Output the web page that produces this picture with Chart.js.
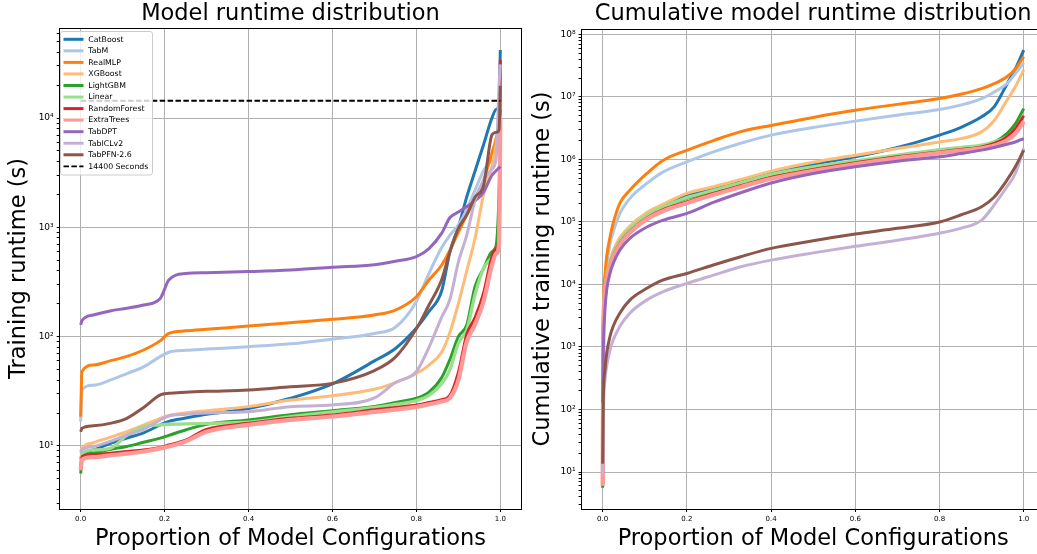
<!DOCTYPE html>
<html><head><meta charset="utf-8">
<script src="https://cdn.jsdelivr.net/npm/chart.js@4.4.1/dist/chart.umd.min.js"></script>
<style>
html,body{margin:0;padding:0;background:#fff;overflow:hidden;width:1037px;height:554px;position:relative;}
#c1{position:absolute;left:0;top:0;}
#c2{position:absolute;left:525px;top:0;}
</style></head><body>
<canvas id="c1" width="581" height="554"></canvas>
<canvas id="c2" width="576" height="554"></canvas>
<script>
const names = ['CatBoost','TabM','RealMLP','XGBoost','LightGBM','Linear','RandomForest','ExtraTrees','TabDPT','TabICLv2','TabPFN-2.6'];
const colors = ['#1f77b4','#aec7e8','#ff7f0e','#ffbb78','#2ca02c','#98df8a','#d62728','#ff9896','#9467bd','#c5b0d5','#8c564b'];
const widths = [3,3,3,3,3,3.3,3,4.2,3,3,3];

// x positions (proportion of model configurations)
const runtimeP = [0, 0.003, 0.03, 0.07, 0.11, 0.15, 0.19, 0.21, 0.25, 0.3, 0.4, 0.5, 0.6, 0.7, 0.75, 0.8, 0.83, 0.86, 0.88, 0.9, 0.92, 0.94, 0.96, 0.98, 0.99, 0.997, 1.0];
const cumulativeP = [0, 0.0016, 0.0055, 0.0095, 0.0174, 0.025, 0.041, 0.065, 0.105, 0.144, 0.2, 0.263, 0.326, 0.4, 0.5, 0.6, 0.7, 0.8, 0.85, 0.9, 0.93, 0.96, 0.98, 1.0];

// left: training runtime (s)
const catboostRuntime = [7.5, 8.2, 9.2, 10.5, 11.8, 13.2, 15.6, 16.8, 18, 19.5, 22, 27.3, 37, 60, 78, 120, 170, 260, 600, 1000, 1900, 3300, 5700, 10000, 12000, 13000, 42000];
const tabmRuntime = [16.7, 32.5, 36, 40, 46, 53, 66, 72, 75, 77, 81, 86, 95, 107, 122, 210, 380, 650, 850, 1050, 1450, 2200, 3300, 4200, 5000, 8000, 20000];
const realmlpRuntime = [18.5, 48, 55, 60, 66, 75.5, 92, 107, 113, 117, 125, 134, 144, 158, 175, 232, 330, 450, 620, 900, 1300, 1850, 2700, 4800, 6500, 9000, 12000];
const xgboostRuntime = [8.9, 9.5, 10.7, 12, 13.5, 15.5, 17.9, 19, 20, 21, 22.9, 26.3, 28.8, 33, 38, 46, 55, 72, 110, 200, 400, 800, 2000, 3600, 5800, 8400, 10000];
const lightgbmRuntime = [5.6, 7.4, 8.6, 9.3, 9.9, 10.8, 11.8, 12.5, 14, 15.8, 17.3, 19.3, 21, 23, 25, 27.3, 31, 42, 62, 100, 128, 290, 420, 600, 680, 2000, 6000];
const linearRuntime = [7.5, 8.5, 9.2, 9.5, 12.5, 15, 15.6, 15.8, 15.9, 16.1, 16.5, 18.5, 20.5, 22.5, 24, 26, 29, 37, 50, 87, 115, 245, 420, 530, 580, 700, 3000];
const randomforestRuntime = [6.5, 8, 8.3, 8.6, 8.9, 9.2, 9.7, 10.2, 11.3, 14.2, 16.1, 17.9, 19.2, 21.4, 22.5, 23.7, 25, 26.5, 29, 47, 105, 150, 250, 540, 640, 800, 34000];
const extratreesRuntime = [6, 7.5, 7.9, 8.2, 8.5, 8.9, 9.5, 9.9, 11, 13.5, 15.6, 17.3, 18.6, 20.5, 21.5, 22.8, 24, 25.5, 27.5, 40, 90, 130, 210, 450, 575, 700, 10000];
const tabdptRuntime = [128, 140, 158, 172, 182, 195, 225, 330, 378, 385, 394, 407, 431, 455, 490, 540, 640, 880, 1230, 1380, 1550, 1750, 2100, 3000, 3300, 3500, 3600];
const tabiclRuntime = [8.6, 9.2, 9.9, 11, 12.6, 14.2, 17.3, 18.8, 19.5, 20, 20.6, 22.9, 23.7, 27.5, 38, 48, 80, 150, 220, 480, 850, 1780, 2700, 3400, 4300, 20000, 31000];
const tabpfnRuntime = [13.5, 14.5, 15.3, 16.1, 17.9, 22.5, 29.3, 30.3, 31, 31.6, 32.5, 34.9, 37.4, 49, 65, 118, 195, 330, 600, 980, 1300, 1900, 2400, 7000, 7400, 7800, 19700];
const limitSeconds = 14400;

// right: cumulative training runtime (s)
const catboostCumulative = [7.5, 2150, 8300, 13400, 22300, 32500, 52500, 81500, 133000, 180000, 263000, 340000, 445000, 610000, 840000, 1100000, 1550000, 2450000, 3240000, 4800000, 7000000, 16000000, 28000000, 56000000];
const tabmCumulative = [16.7, 2000, 8000, 19000, 45000, 69000, 137000, 240000, 414000, 632000, 912000, 1320000, 1800000, 2450000, 3240000, 4100000, 5100000, 6300000, 7400000, 9400000, 12000000, 16300000, 23600000, 35000000];
const realmlpCumulative = [18.5, 3000, 14000, 27700, 57000, 96000, 200000, 323000, 596000, 970000, 1400000, 2000000, 2760000, 3500000, 4700000, 6100000, 7600000, 9400000, 11000000, 13600000, 16300000, 21000000, 28000000, 44000000];
const xgboostCumulative = [8.9, 2300, 8900, 14300, 23900, 34800, 56000, 87000, 142000, 193000, 286000, 365000, 475000, 650000, 900000, 1170000, 1500000, 1900000, 2150000, 2760000, 4200000, 8800000, 14500000, 27000000];
const lightgbmCumulative = [5.6, 2000, 7900, 12600, 21000, 30700, 49500, 76500, 125000, 170000, 238000, 310000, 405000, 550000, 740000, 917000, 1130000, 1380000, 1500000, 1630000, 1900000, 2600000, 3700000, 6500000];
const linearCumulative = [7.5, 2050, 8000, 12900, 21500, 31300, 50500, 78000, 128000, 173000, 245000, 320000, 420000, 575000, 762000, 951000, 1170000, 1440000, 1550000, 1690000, 1910000, 2290000, 2930000, 4240000];
const randomforestCumulative = [6.5, 1900, 7300, 11700, 19500, 28400, 46000, 71000, 116000, 158000, 209000, 285000, 375000, 515000, 690000, 883000, 1100000, 1320000, 1440000, 1580000, 1800000, 2290000, 3100000, 5000000];
const extratreesCumulative = [6, 1800, 7000, 11200, 18700, 27200, 43900, 68000, 111000, 150000, 200000, 272000, 360000, 490000, 658000, 840000, 1050000, 1270000, 1390000, 1510000, 1670000, 2030000, 2600000, 4000000];
const tabdptCumulative = [128, 890, 3900, 8100, 15000, 21700, 35600, 55000, 83000, 107000, 137000, 205000, 290000, 420000, 596000, 762000, 935000, 1100000, 1240000, 1410000, 1550000, 1750000, 1900000, 2160000];
const tabiclCumulative = [8.6, 90, 300, 490, 890, 1290, 2150, 3500, 5670, 7700, 10400, 14100, 19000, 24500, 32000, 40700, 51000, 66000, 79000, 107000, 187000, 365000, 596000, 1500000];
const tabpfnCumulative = [13.5, 141, 427, 790, 1470, 2150, 3500, 5670, 8680, 11800, 15000, 20500, 27500, 37800, 50000, 64000, 79000, 100000, 129000, 175000, 251000, 465000, 762000, 1400000];

const xTicks = [0, 0.2, 0.4, 0.6, 0.8, 1.0];
const runtimeDecades = [10, 100, 1000, 10000];
const cumulativeDecades = [10, 100, 1000, 10000, 100000, 1000000, 10000000, 100000000];

const runtimeSeries = [catboostRuntime, tabmRuntime, realmlpRuntime, xgboostRuntime, lightgbmRuntime, linearRuntime, randomforestRuntime, extratreesRuntime, tabdptRuntime, tabiclRuntime, tabpfnRuntime];
const cumulativeSeries = [catboostCumulative, tabmCumulative, realmlpCumulative, xgboostCumulative, lightgbmCumulative, linearCumulative, randomforestCumulative, extratreesCumulative, tabdptCumulative, tabiclCumulative, tabpfnCumulative];

Chart.defaults.font.family = "'DejaVu Sans', sans-serif";
Chart.defaults.color = '#000';

const SUP = {'0':'⁰','1':'¹','2':'²','3':'³','4':'⁴','5':'⁵','6':'⁶','7':'⁷','8':'⁸','9':'⁹','-':'⁻'};
function supLabel(v){ const e = Math.round(Math.log10(v)); return '10' + String(e).split('').map(c=>SUP[c]).join(''); }
function logTicks(min, max, decades){
  const t = [];
  for (let e = Math.floor(Math.log10(min)); e <= Math.ceil(Math.log10(max)); e++){
    for (let k = 1; k <= 9; k++){
      const v = k * Math.pow(10, e);
      if (v >= min && v <= max) t.push({value: v, major: k === 1 && decades.some(d => Math.abs(d - v) < 1e-6 * d)});
    }
  }
  return t;
}

const frame = { id:'frame', afterDatasetsDraw(chart){
  const {ctx, chartArea:a} = chart; ctx.save();
  ctx.strokeStyle = '#000'; ctx.lineWidth = 1; ctx.setLineDash([]);
  const l = Math.floor(a.left)+0.5, t = Math.floor(a.top)+0.5, r = Math.floor(a.right)+0.5, b = Math.floor(a.bottom)+0.5;
  ctx.strokeRect(l, t, r-l, b-t); ctx.restore();
}};

const legendBox = { id:'legendBox', afterDraw(chart){
  const ctx = chart.ctx; const ds = chart.data.datasets;
  ctx.save();
  const x0 = 60.5, y0 = 31.5, w = 92, h = 143.5;
  ctx.beginPath(); ctx.roundRect(x0, y0, w, h, 2.5);
  ctx.fillStyle = 'rgba(255,255,255,0.8)'; ctx.fill();
  ctx.strokeStyle = '#cccccc'; ctx.lineWidth = 1; ctx.stroke();
  ctx.font = "7.8px 'DejaVu Sans'"; ctx.textBaseline = 'middle'; ctx.textAlign = 'left';
  ds.forEach((d, i) => {
    const y = 39.3 + 11.55 * i;
    ctx.beginPath(); ctx.setLineDash(d.borderDash || []);
    ctx.strokeStyle = d.borderColor; ctx.lineWidth = d.borderDash ? 1.8 : 3;
    ctx.moveTo(63.5, y); ctx.lineTo(83.5, y); ctx.stroke();
    ctx.setLineDash([]);
    ctx.fillStyle = '#000'; ctx.fillText(d.label, 88.3, y + 0.3);
  });
  ctx.restore();
}};

function makeDatasets(p, series){
  return series.map((s, i) => ({
    label: names[i],
    data: p.map((x, j) => ({x: x, y: s[j]})),
    borderColor: colors[i], backgroundColor: colors[i],
    borderWidth: widths[i], pointRadius: 0, fill: false,
    cubicInterpolationMode: 'monotone', order: 20 - i,
    borderJoinStyle: 'round'
  }));
}

function makeOptions(cfg){
  return {
    responsive: false, animation: false, devicePixelRatio: 1,
    layout: {padding: {left: 0, right: cfg.padRight, top: 0, bottom: 0}},
    plugins: {
      legend: {display: false}, tooltip: {enabled: false},
      title: {display: true, fullSize: false, text: cfg.title, color: '#000', font: {size: 22.5, weight: 'normal', lineHeight: 1.2}, padding: {top: 0.7, bottom: cfg.titlePadBottom}}
    },
    scales: {
      x: {
        type: 'linear', min: -0.05, max: 1.05,
        afterBuildTicks: s => { s.ticks = xTicks.map(v => ({value: v})); },
        afterFit: s => { s.height = 45; },
        ticks: {autoSkip: false, maxRotation: 0, minRotation: 0, padding: 3, font: {size: 7}, color: '#000', callback: v => Number(v).toFixed(1)},
        grid: {color: '#b0b0b0', lineWidth: 1, tickColor: '#000', tickLength: 3, tickWidth: 1},
        border: {display: false},
        title: {display: true, text: 'Proportion of Model Configurations', color: '#000', font: {size: 22.5, lineHeight: 1.2}, padding: {top: 0, bottom: 1.3}}
      },
      y: {
        type: 'logarithmic', min: cfg.ymin, max: cfg.ymax,
        afterBuildTicks: s => { s.ticks = logTicks(cfg.ymin, cfg.ymax, cfg.decades); },
        afterFit: s => { s.width = cfg.yWidth; },
        ticks: {autoSkip: false, padding: 3, font: {size: 9}, color: '#000', callback: (v, i, t) => (t[i] && t[i].major) ? supLabel(v) : ''},
        grid: {color: c => (c.tick && c.tick.major) ? '#b0b0b0' : 'rgba(0,0,0,0)', lineWidth: 1, tickColor: '#000', tickLength: 3, tickWidth: 1},
        border: {display: false},
        title: {display: true, text: cfg.ytitle, color: '#000', font: {size: 22.5, lineHeight: 1.2}, padding: {top: cfg.yTitlePad, bottom: 0}}
      }
    }
  };
}

const leftSets = makeDatasets(runtimeP, runtimeSeries);
leftSets.push({label: '14400 Seconds', data: [{x: 0, y: limitSeconds}, {x: 1, y: limitSeconds}], borderColor: '#000', backgroundColor: '#000', borderWidth: 1.8, borderDash: [5.5, 2.4], pointRadius: 0, fill: false, order: 0});

new Chart(document.getElementById('c1'), {
  type: 'line',
  data: {datasets: leftSets},
  options: makeOptions({padRight: 59.7, title: 'Model runtime distribution', titlePadBottom: 0.3, ymin: 2.65, ymax: 66700, decades: runtimeDecades, yWidth: 59.7, ytitle: 'Training runtime (s)', yTitlePad: 5.5}),
  plugins: [frame, legendBox]
});

new Chart(document.getElementById('c2'), {
  type: 'line',
  data: {datasets: makeDatasets(cumulativeP, cumulativeSeries)},
  options: makeOptions({padRight: 56.2, title: 'Cumulative model runtime distribution', titlePadBottom: 1.3, ymin: 2.56, ymax: 1.22e8, decades: cumulativeDecades, yWidth: 56.6, ytitle: 'Cumulative training runtime (s)', yTitlePad: 5}),
  plugins: [frame]
});
</script></body></html>
